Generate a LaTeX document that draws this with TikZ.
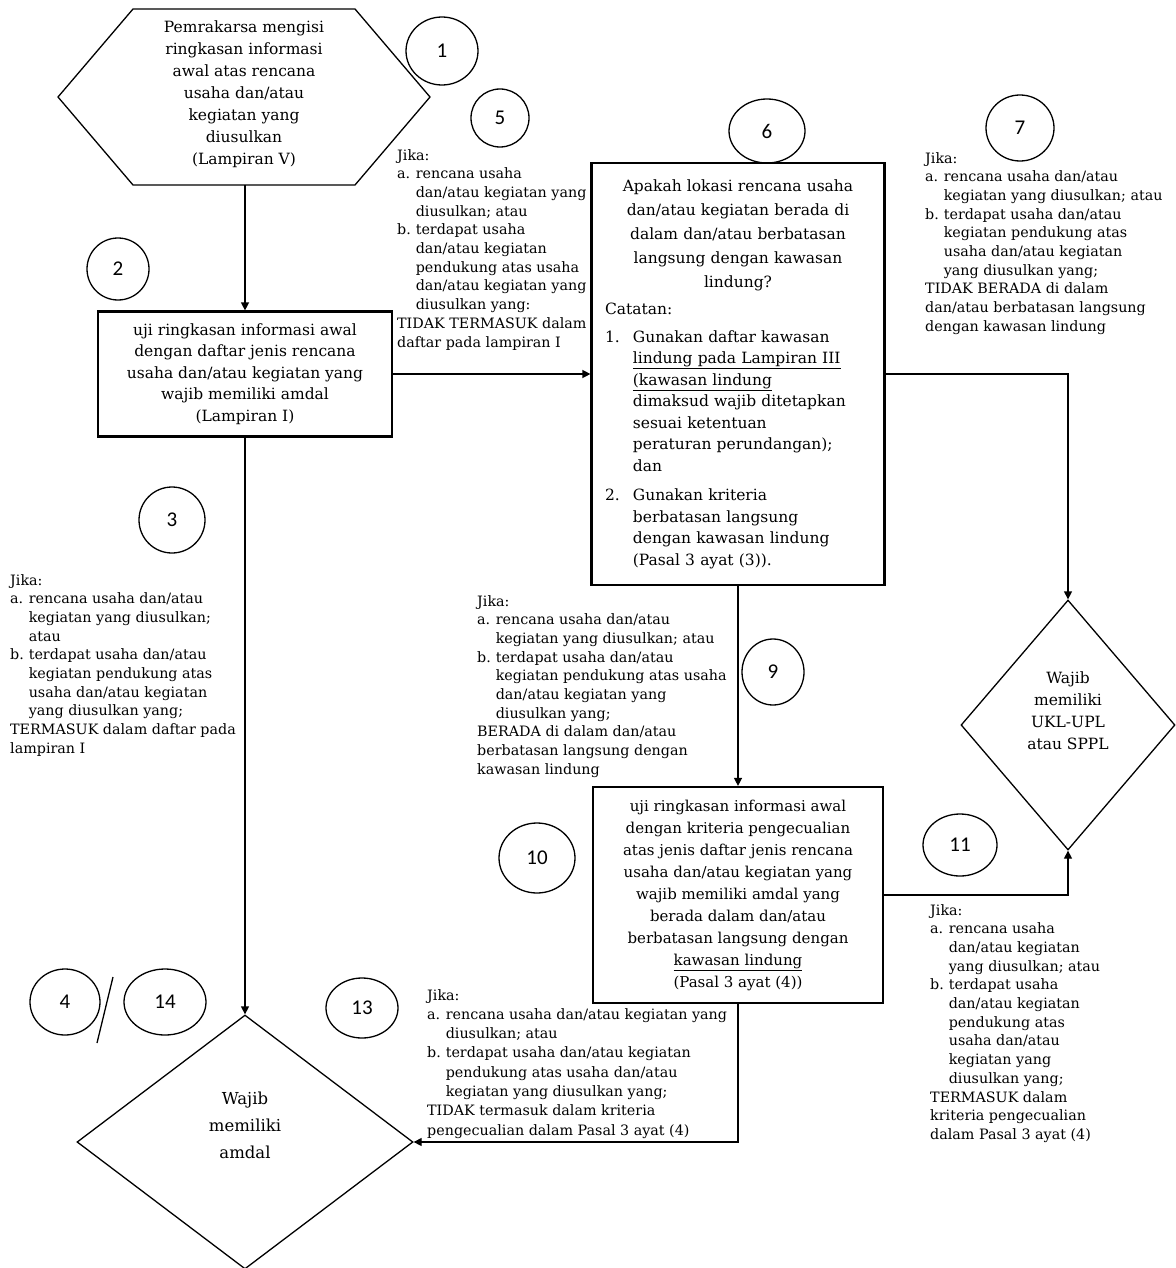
\documentclass[tikz,border=0pt]{standalone}
\usepackage{fontspec}
\setmainfont{DejaVu Serif}
\newfontfamily\numfont{Carlito}
\usetikzlibrary{shapes.geometric,arrows.meta}
\newcommand{\lbl}[2][1.3em]{\makebox[#1][l]{#2}}
\newcommand{\ind}[1][1.3em]{\hspace*{#1}}

\begin{document}
\begin{tikzpicture}[x=1pt,y=-1pt,
  box/.style={draw,line width=2.2pt,inner sep=0pt,align=center,font=\fontsize{15.5}{21.5}\selectfont},
  num/.style={draw,ellipse,line width=1.3pt,inner sep=0pt,font=\numfont\fontsize{21}{22}\selectfont},
  note/.style={anchor=north west,align=left,inner sep=0pt,font=\fontsize{14.3}{18.7}\selectfont},
  dia/.style={draw,diamond,line width=1.3pt,inner sep=0pt},
  diatext/.style={align=center,inner sep=0pt,font=\fontsize{15.5}{22}\selectfont},
  arr/.style={-{Triangle[length=8pt,width=8pt]},line width=1.3pt}]
\useasboundingbox (0,0) rectangle (1175,1268);

% start
\draw[line width=1.3pt] (133,9) -- (355,9) -- (430,97) -- (355,185) -- (133,185) -- (58,97) -- cycle;
\node[align=center,inner sep=0pt,font=\fontsize{15.5}{22}\selectfont] (start) at (244,94)
  {Pemrakarsa mengisi\\ ringkasan informasi\\ awal atas rencana\\ usaha dan/atau\\ kegiatan yang\\ diusulkan\\ (Lampiran V)};
\coordinate (startb) at (245,185);

% boxes
\node[box,minimum width=294,minimum height=125] (uji1) at (245,374)
  {uji ringkasan informasi awal\\ dengan daftar jenis rencana\\ usaha dan/atau kegiatan yang\\ wajib memiliki amdal\\ (Lampiran I)};
\node[box,minimum width=293,minimum height=422,text width=266,align=left] (lokasi) at (738,374)
  {{\centering\fontsize{15.5}{24}\selectfont Apakah lokasi rencana usaha\\ dan/atau kegiatan berada di\\ dalam dan/atau berbatasan\\ langsung dengan kawasan\\ lindung?\par}
   \vspace{6pt}Catatan:\par\vspace{6pt}
   \lbl[1.8em]{1.}Gunakan daftar kawasan\\ \ind[1.8em]\underline{lindung pada Lampiran III}\\ \ind[1.8em]\underline{(kawasan lindung}\\ \ind[1.8em]dimaksud wajib ditetapkan\\ \ind[1.8em]sesuai ketentuan\\ \ind[1.8em]peraturan perundangan);\\ \ind[1.8em]dan\par\vspace{8pt}
   \lbl[1.8em]{2.}Gunakan kriteria\\ \ind[1.8em]berbatasan langsung\\ \ind[1.8em]dengan kawasan lindung\\ \ind[1.8em](Pasal 3 ayat (3)).\par\vspace{10pt}};
\node[box,minimum width=290,minimum height=216,font=\fontsize{15}{22}\selectfont] (uji2) at (738,895)
  {uji ringkasan informasi awal\\ dengan kriteria pengecualian\\ atas jenis daftar jenis rencana\\ usaha dan/atau kegiatan yang\\ wajib memiliki amdal yang\\ berada dalam dan/atau\\ berbatasan langsung dengan\\ \underline{kawasan lindung}\\ (Pasal 3 ayat (4))};

% results
\node[dia,minimum width=336,minimum height=254] (amdal) at (245,1142) {};
\node[diatext,font=\fontsize{16.5}{27}\selectfont] (amdaltext) at ([yshift=17pt]amdal.center) {Wajib\\ memiliki\\ amdal};
\node[dia,minimum width=214,minimum height=250] (ukl) at (1068,725) {};
\node[diatext] (ukltext) at ([yshift=14pt]ukl.center) {Wajib\\ memiliki\\ UKL-UPL\\ atau SPPL};

% connectors
\draw[arr] (startb) -- (uji1.north);
\draw[arr] (uji1.east) -- (lokasi.west);
\draw[arr] (lokasi.east) -| (ukl.north);
\draw[arr] (uji1.south) -- (amdal.north);
\draw[arr] (lokasi.south) -- (uji2.north);
\draw[arr] (uji2.east) -| (ukl.south);
\draw[arr] (uji2.south) |- (amdal.east);

% step numbers
\node[num,minimum width=72,minimum height=68] (n1) at (442,51) {1};
\node[num,minimum width=58,minimum height=58] (n5) at (500,118) {5};
\node[num,minimum width=76,minimum height=64] (n6) at (767,131) {6};
\node[num,minimum width=68,minimum height=66] (n7) at (1020,128) {7};
\node[num,minimum width=62,minimum height=62] (n2) at (118,269) {2};
\node[num,minimum width=66,minimum height=66] (n3) at (172,520) {3};
\node[num,minimum width=62,minimum height=66] (n9) at (773,672) {9};
\node[num,minimum width=76,minimum height=70] (n10) at (537,858) {10};
\node[num,minimum width=74,minimum height=62] (n11) at (960,845) {11};
\node[num,minimum width=72,minimum height=60] (n13) at (362,1008) {13};
\node[num,minimum width=70,minimum height=66] (n4) at (65,1002) {4};
\node[num,minimum width=82,minimum height=66] (n14) at (165,1002) {14};
\draw[line width=1.3pt] (113,977) -- (97,1043);

% conditions
\node[note] (jika5) at (397,149) {Jika:\\
  \lbl{a.}rencana usaha\\ \ind dan/atau kegiatan yang\\ \ind diusulkan; atau\\
  \lbl{b.}terdapat usaha\\ \ind dan/atau kegiatan\\ \ind pendukung atas usaha\\ \ind dan/atau kegiatan yang\\ \ind diusulkan yang:\\
  TIDAK TERMASUK dalam\\ daftar pada lampiran I};
\node[note] (jika7) at (925,152) {Jika:\\
  \lbl{a.}rencana usaha dan/atau\\ \ind kegiatan yang diusulkan; atau\\
  \lbl{b.}terdapat usaha dan/atau\\ \ind kegiatan pendukung atas\\ \ind usaha dan/atau kegiatan\\ \ind yang diusulkan yang;\\
  TIDAK BERADA di dalam\\ dan/atau berbatasan langsung\\ dengan kawasan lindung};
\node[note] (jika3) at (10,574) {Jika:\\
  \lbl{a.}rencana usaha dan/atau\\ \ind kegiatan yang diusulkan;\\ \ind atau\\
  \lbl{b.}terdapat usaha dan/atau\\ \ind kegiatan pendukung atas\\ \ind usaha dan/atau kegiatan\\ \ind yang diusulkan yang;\\
  TERMASUK dalam daftar pada\\ lampiran I};
\node[note] (jika9) at (477,595) {Jika:\\
  \lbl{a.}rencana usaha dan/atau\\ \ind kegiatan yang diusulkan; atau\\
  \lbl{b.}terdapat usaha dan/atau\\ \ind kegiatan pendukung atas usaha\\ \ind dan/atau kegiatan yang\\ \ind diusulkan yang;\\
  BERADA di dalam dan/atau\\ berbatasan langsung dengan\\ kawasan lindung};
\node[note] (jika11) at (930,904) {Jika:\\
  \lbl{a.}rencana usaha\\ \ind dan/atau kegiatan\\ \ind yang diusulkan; atau\\
  \lbl{b.}terdapat usaha\\ \ind dan/atau kegiatan\\ \ind pendukung atas\\ \ind usaha dan/atau\\ \ind kegiatan yang\\ \ind diusulkan yang;\\
  TERMASUK dalam\\ kriteria pengecualian\\ dalam Pasal 3 ayat (4)};
\node[note,font=\fontsize{14.3}{19.3}\selectfont] (jika13) at (427,989) {Jika:\\
  \lbl{a.}rencana usaha dan/atau kegiatan yang\\ \ind diusulkan; atau\\
  \lbl{b.}terdapat usaha dan/atau kegiatan\\ \ind pendukung atas usaha dan/atau\\ \ind kegiatan yang diusulkan yang;\\
  TIDAK termasuk dalam kriteria\\ pengecualian dalam Pasal 3 ayat (4)};
\end{tikzpicture}
\end{document}
